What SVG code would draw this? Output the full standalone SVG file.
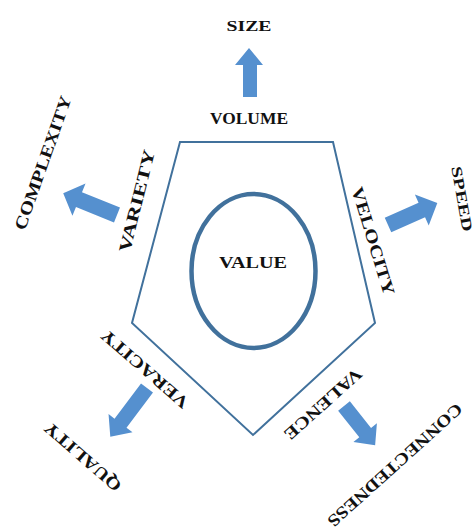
<svg xmlns="http://www.w3.org/2000/svg" width="473" height="530" viewBox="0 0 473 530">
<style>
.lbl{font-family:"Liberation Serif","Times New Roman",serif;font-weight:bold;fill:#111;text-anchor:middle;dominant-baseline:central;}
.arrow{fill:#5590cf;}
</style>
<rect width="473" height="530" fill="#fff"/>
<g id="pentagon">
<polygon points="180,142 333,142 375,323 253,435 132,323" fill="none" stroke="#41719c" stroke-width="2"/>
</g>
<g id="value">
<ellipse cx="253.5" cy="271" rx="62" ry="77" fill="none" stroke="#41719c" stroke-width="4.5"/>
<text class="lbl" x="253" y="262" font-size="16" textLength="68" lengthAdjust="spacingAndGlyphs">VALUE</text>
</g>
<g id="connectors">
<polygon class="arrow" points="243,97 257,97 257,65 263,65 249,48 235,65 243,65"/>
<g transform="translate(117,215) rotate(202)"><polygon class="arrow" points="0,-8 41,-8 41,-17.5 58,0 41,17.5 41,8 0,8"/></g>
<g transform="translate(388,225) rotate(-24)"><polygon class="arrow" points="0,-8 37,-8 37,-17 54,0 37,17 37,8 0,8"/></g>
<g transform="translate(147,388) rotate(127)"><polygon class="arrow" points="0,-7.5 44,-7.5 44,-15 61,0 44,15 44,7.5 0,7.5"/></g>
<g transform="translate(344,406) rotate(51.5)"><polygon class="arrow" points="0,-7.5 34,-7.5 34,-15 50,0 34,15 34,7.5 0,7.5"/></g>
</g>
<g id="volume">
<text class="lbl" x="249" y="118" font-size="17" textLength="78" lengthAdjust="spacingAndGlyphs">VOLUME</text>
</g>
<g id="size">
<text class="lbl" x="249" y="26" font-size="15" textLength="45" lengthAdjust="spacingAndGlyphs">SIZE</text>
</g>
<g id="variety">
<text class="lbl" transform="translate(137,201) rotate(-76)" font-size="17" textLength="105" lengthAdjust="spacingAndGlyphs">VARIETY</text>
</g>
<g id="complexity">
<text class="lbl" transform="translate(43,163) rotate(-70.5)" font-size="17" textLength="141" lengthAdjust="spacingAndGlyphs">COMPLEXITY</text>
</g>
<g id="velocity">
<text class="lbl" transform="translate(373,241) rotate(73)" font-size="17" textLength="112" lengthAdjust="spacingAndGlyphs">VELOCITY</text>
</g>
<g id="speed">
<text class="lbl" transform="translate(462,199) rotate(80)" font-size="15" textLength="66" lengthAdjust="spacingAndGlyphs">SPEED</text>
</g>
<g id="veracity">
<text class="lbl" transform="translate(145,369) rotate(221)" font-size="17" textLength="110" lengthAdjust="spacingAndGlyphs">VERACITY</text>
</g>
<g id="quality">
<text class="lbl" transform="translate(83,457) rotate(221)" font-size="17" textLength="96" lengthAdjust="spacingAndGlyphs">QUALITY</text>
</g>
<g id="valence">
<text class="lbl" transform="translate(323,404) rotate(138)" font-size="17" textLength="98" lengthAdjust="spacingAndGlyphs">VALENCE</text>
</g>
<g id="connectedness">
<text class="lbl" transform="translate(395,465) rotate(138)" font-size="17" textLength="175" lengthAdjust="spacingAndGlyphs">CONNECTEDNESS</text>
</g>
</svg>
